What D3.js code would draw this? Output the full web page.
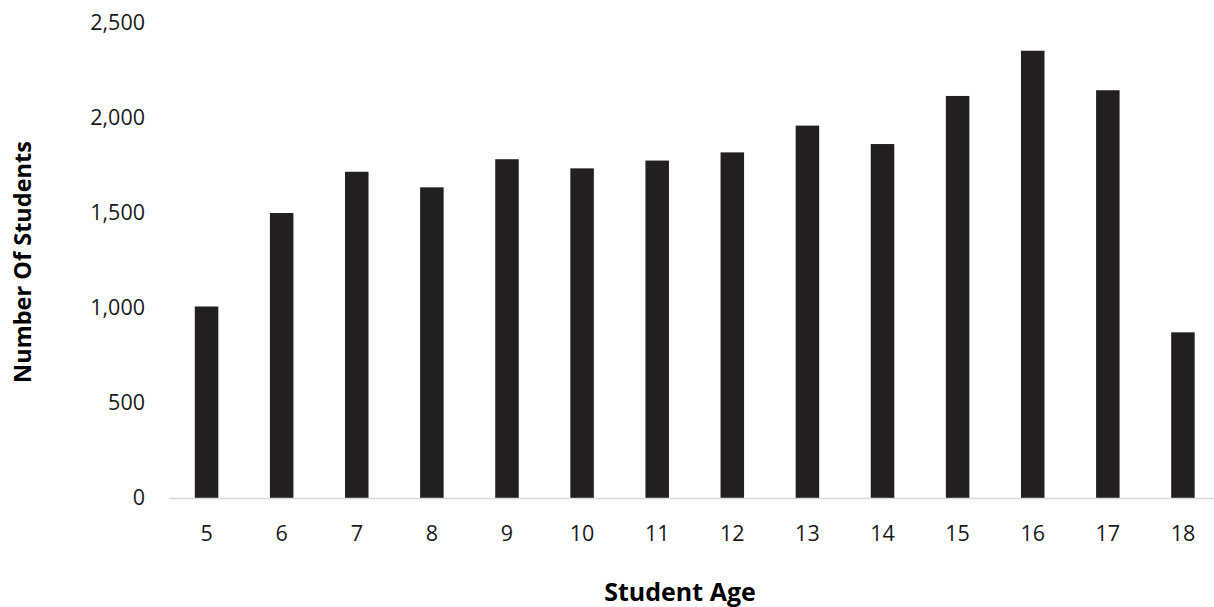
<!DOCTYPE html>
<html><head><meta charset="utf-8">
<script src="https://cdn.jsdelivr.net/npm/d3@7"></script>
<style>body{margin:0;background:#fff}svg{display:block}</style>
</head><body>
<script>
const ages = ["5","6","7","8","9","10","11","12","13","14","15","16","17","18"];
const students = [1008, 1500, 1717, 1635, 1783, 1735, 1776, 1819, 1960, 1863, 2116, 2354, 2146, 872];
const yTicks = [0, 500, 1000, 1500, 2000, 2500];
const yTitle = "Number Of Students";
const xTitle = "Student Age";

const W = 1214, H = 607;
const svg = d3.select("body").append("svg").attr("width", W).attr("height", H);
const x = d3.scaleBand().domain(ages).range([169, 1220.5]).paddingInner(0.687).paddingOuter(0.3435);
const y = d3.scaleLinear().domain([0, 2500]).range([498, 23]);
const font = "'Open Sans', sans-serif";

svg.selectAll("rect.bar").data(ages).join("rect").attr("class","bar")
  .attr("x", d => x(d)).attr("width", x.bandwidth())
  .attr("y", (d,i) => y(students[i])).attr("height", (d,i) => y(0) - y(students[i]))
  .attr("fill", "#231f20");

// x axis
const xa = svg.append("g").attr("transform", `translate(0,${y(0)})`).call(d3.axisBottom(x).tickSize(0).tickPadding(28));
xa.select(".domain").attr("stroke", "#d9d9d9").attr("stroke-width", 1.3);
xa.selectAll("text").attr("font-family", font).attr("font-size", 21.5).attr("fill", "#1a1a1a");

// y axis
const ya = svg.append("g").attr("transform", `translate(145,0)`).call(d3.axisLeft(y).tickValues(yTicks).tickSize(0).tickPadding(0).tickFormat(d3.format(",")));
ya.select(".domain").remove();
ya.selectAll("text").attr("font-family", font).attr("font-size", 21.5).attr("fill", "#1a1a1a");

svg.append("text").attr("x", 680).attr("y", 601).attr("text-anchor", "middle")
  .attr("font-family", font).attr("font-weight", "bold").attr("font-size", 25).attr("fill", "#000").text(xTitle);
svg.append("text").attr("transform", "translate(31,262) rotate(-90)").attr("text-anchor", "middle")
  .attr("font-family", font).attr("font-weight", "bold").attr("font-size", 23.5).attr("fill", "#000").text(yTitle);
</script>
</body></html>
